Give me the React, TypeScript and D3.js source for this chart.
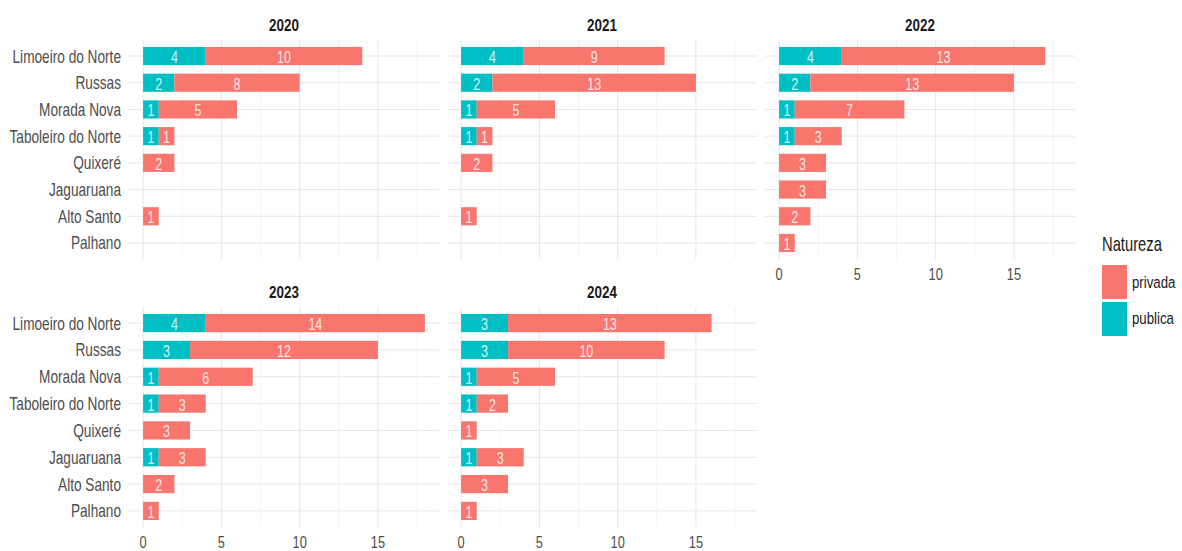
import React from "react";
import * as d3 from "d3";

const categories = [
  "Limoeiro do Norte",
  "Russas",
  "Morada Nova",
  "Taboleiro do Norte",
  "Quixeré",
  "Jaguaruana",
  "Alto Santo",
  "Palhano",
];
const years = ["2020", "2021", "2022", "2023", "2024"];

const publica2020 = [4, 2, 1, 1, 0, 0, 0, 0];
const privada2020 = [10, 8, 5, 1, 2, 0, 1, 0];
const publica2021 = [4, 2, 1, 1, 0, 0, 0, 0];
const privada2021 = [9, 13, 5, 1, 2, 0, 1, 0];
const publica2022 = [4, 2, 1, 1, 0, 0, 0, 0];
const privada2022 = [13, 13, 7, 3, 3, 3, 2, 1];
const publica2023 = [4, 3, 1, 1, 0, 1, 0, 0];
const privada2023 = [14, 12, 6, 3, 3, 3, 2, 1];
const publica2024 = [3, 3, 1, 1, 0, 1, 0, 0];
const privada2024 = [13, 10, 5, 2, 1, 3, 3, 1];

const publicaByYear = [publica2020, publica2021, publica2022, publica2023, publica2024];
const privadaByYear = [privada2020, privada2021, privada2022, privada2023, privada2024];

const xTicks = [0, 5, 10, 15];
const xMinor = [2.5, 7.5, 12.5, 17.5];
const legendKeys = ["privada", "publica"];

const COLORS: Record<string, string> = { privada: "#F8766D", publica: "#00BFC4" };
const FONT = "'Liberation Sans', Arial, sans-serif";

const colLeft = [129, 447, 765];
const panelW = 310;
const rowTop = [40, 307];
const rowBottom = [259, 527];

function T(props: {
  x: number;
  y: number;
  s: number;
  size: number;
  anchor?: string;
  fill?: string;
  weight?: string | number;
  opacity?: number;
  children: React.ReactNode;
}) {
  const { x, y, s, size, anchor = "start", fill = "#4D4D4D", weight = "normal", opacity = 1 } = props;
  return (
    <text
      transform={`translate(${x},${y}) scale(${s},1)`}
      fontSize={size}
      fontFamily={FONT}
      textAnchor={anchor}
      fill={fill}
      fontWeight={weight}
      opacity={opacity}
    >
      {props.children}
    </text>
  );
}

function Panel({ idx }: { idx: number }) {
  const col = idx % 3;
  const row = Math.floor(idx / 3);
  const left = colLeft[col];
  const top = rowTop[row];
  const bottom = rowBottom[row];
  const x = d3.scaleLinear().domain([-0.9, 18.9]).range([left, left + panelW]);
  const y = d3.scalePoint<string>().domain(categories).range([top, bottom]).padding(0.6);
  const step = y.step();
  const barH = step * 0.68;

  const rows = categories.map((c, i) => ({
    cat: c,
    publica: publicaByYear[idx][i],
    privada: privadaByYear[idx][i],
  }));
  const stacked = d3.stack<any>().keys(["publica", "privada"])(rows);

  const showX = idx >= 2;
  const showY = col === 0;

  return (
    <g>
      {xMinor.map((t) => (
        <line key={"mn" + t} x1={x(t)} x2={x(t)} y1={top} y2={bottom} stroke="#EBEBEB" strokeWidth={0.6} />
      ))}
      {xTicks.map((t) => (
        <line key={"mj" + t} x1={x(t)} x2={x(t)} y1={top} y2={bottom} stroke="#E6E6E6" strokeWidth={1} />
      ))}
      {categories.map((c) => (
        <line key={"h" + c} x1={left} x2={left + panelW} y1={y(c)!} y2={y(c)!} stroke="#E6E6E6" strokeWidth={1} />
      ))}
      {stacked.map((layer) =>
        layer.map((seg, i) => {
          const v = seg[1] - seg[0];
          if (v <= 0) return null;
          const cy = y(rows[i].cat)!;
          return (
            <rect
              key={layer.key + i}
              x={x(seg[0])}
              y={cy - barH / 2}
              width={x(seg[1]) - x(seg[0])}
              height={barH}
              fill={COLORS[layer.key]}
            />
          );
        })
      )}
      {stacked.map((layer) =>
        layer.map((seg, i) => {
          const v = seg[1] - seg[0];
          if (v <= 0) return null;
          const cy = y(rows[i].cat)!;
          return (
            <T
              key={"l" + layer.key + i}
              x={x((seg[0] + seg[1]) / 2)}
              y={cy + 7}
              s={0.78}
              size={16}
              anchor="middle"
              fill="#FFFFFF"
              opacity={0.82}
            >
              {String(v)}
            </T>
          );
        })
      )}
      <T x={left + panelW / 2} y={top - 9} s={0.84} size={16} anchor="middle" fill="#1A1A1A" weight="bold">
        {years[idx]}
      </T>
      {showX &&
        xTicks.map((t) => (
          <T key={"xt" + t} x={x(t)} y={bottom + 21} s={0.8} size={16} anchor="middle">
            {String(t)}
          </T>
        ))}
      {showY &&
        categories.map((c) => (
          <T key={"yt" + c} x={left - 8} y={y(c)! + 6.5} s={0.78} size={17.5} anchor="end">
            {c}
          </T>
        ))}
    </g>
  );
}

export default function App() {
  return (
    <svg
      width={1182}
      height={551}
      style={{ position: "absolute", left: 0, top: 0, background: "#FFFFFF" }}
    >
      <rect x={0} y={0} width={1182} height={551} fill="#FFFFFF" />
      {years.map((yr, i) => (
        <Panel key={yr} idx={i} />
      ))}
      <T x={1102} y={251} s={0.72} size={20.5} fill="#1A1A1A">
        Natureza
      </T>
      {legendKeys.map((k, i) => (
        <g key={k}>
          <rect x={1102} y={265 + i * 37} width={25} height={34} fill={COLORS[k]} />
          <T x={1132} y={288 + i * 36} s={0.78} size={17} fill="#1A1A1A">
            {k}
          </T>
        </g>
      ))}
    </svg>
  );
}
